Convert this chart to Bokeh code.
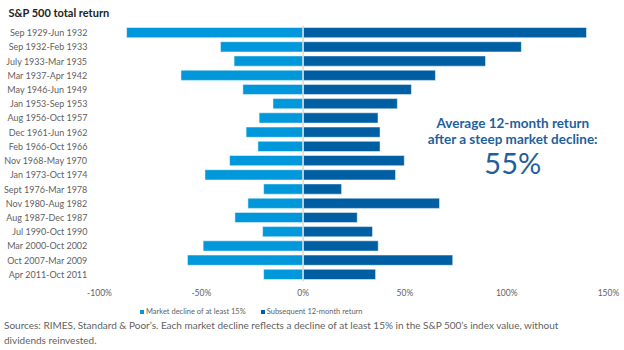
import html
from bokeh.plotting import figure
from bokeh.layouts import column
from bokeh.models import Span, Label, Legend, LegendItem, FixedTicker, Range1d, Div
from bokeh.embed import file_html
from bokeh.resources import INLINE

periods = ["Sep 1929-Jun 1932", "Sep 1932-Feb 1933", "July 1933-Mar 1935", "Mar 1937-Apr 1942",
           "May 1946-Jun 1949", "Jan 1953-Sep 1953", "Aug 1956-Oct 1957", "Dec 1961-Jun 1962",
           "Feb 1966-Oct 1966", "Nov 1968-May 1970", "Jan 1973-Oct 1974", "Sept 1976-Mar 1978",
           "Nov 1980-Aug 1982", "Aug 1987-Dec 1987", "Jul 1990-Oct 1990", "Mar 2000-Oct 2002",
           "Oct 2007-Mar 2009", "Apr 2011-Oct 2011"]
decline = [-86.7, -40.6, -33.9, -60.0, -29.6, -14.8, -21.6, -28.0, -22.2, -36.1, -48.2, -19.4,
           -27.1, -33.5, -19.9, -49.1, -56.8, -19.4]
subsequent = [139.2, 107.2, 89.6, 65.0, 53.2, 46.3, 36.8, 37.8, 37.8, 49.7, 45.4, 18.9,
              67.0, 26.6, 34.1, 36.9, 73.5, 35.6]
x_ticks = [-100, -50, 0, 50, 100, 150]
series_names = ["Market decline of at least 15%", "Subsequent 12-month return"]
source_lines = ["Sources: RIMES, Standard & Poor\u2019s. Each market decline reflects a decline of at least 15% in the S&P 500\u2019s index value, without",
                "dividends reinvested."]

FONT = "Lato"
LIGHT = "#0098DA"
DARK = "#005FA2"
TEXT = "#5f5f5f"

rows = list(range(len(periods)))

# ---- main chart ----
p = figure(width=624, height=300, x_range=(-100, 150), y_range=Range1d(len(periods) - 0.5, -0.5),
           output_backend="svg", toolbar_location=None,
           min_border_left=96, min_border_right=16, min_border_top=24, min_border_bottom=19)
p.outline_line_color = None
p.grid.visible = False
p.background_fill_color = "white"
p.border_fill_color = "white"

p.hbar(y=rows, left=0, right=decline, height=0.72, fill_color=LIGHT, line_color="white", line_width=0.5)
p.hbar(y=rows, left=0, right=subsequent, height=0.72, fill_color=DARK, line_color="white", line_width=0.5)

p.add_layout(Span(location=0, dimension="height", line_color="#d9d9d9", line_width=1.5))

p.title.text = "S&P 500 total return"
p.title.text_font = FONT
p.title.text_font_size = "11px"
p.title.text_font_style = "bold"
p.title.text_color = "#222222"
p.title.align = "left"
p.title.vertical_align = "top"
p.title.offset = -91
p.title.standoff = 10

p.yaxis.ticker = FixedTicker(ticks=rows)
p.yaxis.major_label_overrides = {i: s for i, s in zip(rows, periods)}
p.yaxis.axis_line_color = None
p.yaxis.major_tick_line_color = None
p.yaxis.minor_tick_line_color = None
p.yaxis.major_label_text_font = FONT
p.yaxis.major_label_text_font_size = "9px"
p.yaxis.major_label_text_color = TEXT
p.yaxis.major_label_standoff = 6

p.xaxis.axis_line_color = None
p.xaxis.major_tick_line_color = None
p.xaxis.minor_tick_line_color = None
p.xaxis.major_tick_out = 0
p.xaxis.major_tick_in = 0
p.xaxis.ticker = FixedTicker(ticks=x_ticks)
p.xaxis.major_label_overrides = {t: f"{t}%" for t in x_ticks}
p.xaxis.major_label_text_font = FONT
p.xaxis.major_label_text_font_size = "8.5px"
p.xaxis.major_label_text_color = TEXT
p.xaxis.major_label_standoff = 6

for txt, yv, size, style in [("Average 12-month return", 6.36, "13.5px", "bold"),
                             ("after a steep market decline:", 7.48, "13.5px", "bold"),
                             ("55%", 9.16, "29px", "normal")]:
    p.add_layout(Label(x=103, y=yv, text=txt, text_align="center", text_baseline="middle",
                       text_font=FONT, text_font_size=size, text_font_style=style,
                       text_color="#1F5F9C"))

# ---- legend strip ----
f = figure(width=624, height=18, x_range=Range1d(-100, 150), y_range=Range1d(100, 101),
           output_backend="svg", toolbar_location=None, x_axis_type=None, y_axis_type=None,
           min_border=0)
f.outline_line_color = None
f.grid.visible = False
f.background_fill_color = "white"
f.border_fill_color = "white"

k1 = f.hbar(y=rows, left=0, right=decline, height=0.72, fill_color=LIGHT, line_color=None)
k2 = f.hbar(y=rows, left=0, right=subsequent, height=0.72, fill_color=DARK, line_color=None)

legend = Legend(items=[LegendItem(label=series_names[0], renderers=[k1]),
                       LegendItem(label=series_names[1], renderers=[k2])],
                orientation="horizontal", location=(40, 2),
                glyph_width=5, glyph_height=5, label_standoff=2, spacing=14,
                label_text_font=FONT, label_text_font_size="7.5px", label_text_color=TEXT,
                border_line_color=None, background_fill_alpha=0, padding=2, margin=0)
f.add_layout(legend, "center")

# ---- sources ----
d = Div(text="<br>".join(html.escape(s) for s in source_lines), width=624, height=32,
        margin=(0, 0, 0, 0),
        styles={"font-family": "Lato", "font-size": "10px", "color": TEXT,
                "line-height": "15px", "padding-left": "4px", "white-space": "nowrap"})

layout = column(p, f, d, spacing=0)
open("out.html", "w").write(file_html(layout, INLINE))
